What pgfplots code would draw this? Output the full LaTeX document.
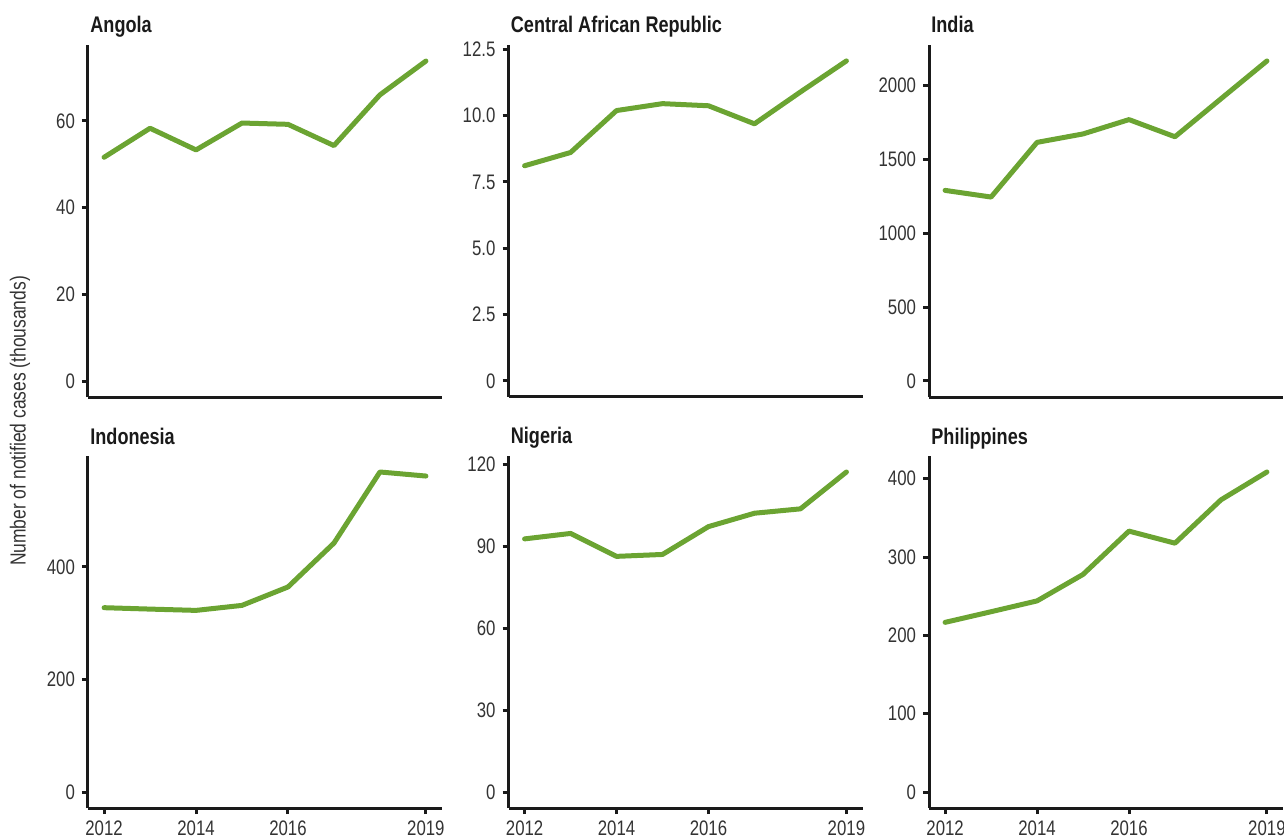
\documentclass[border=0pt]{standalone}
\usepackage{fontspec}
\setmainfont{Liberation Sans}[FakeStretch=0.8]
\usepackage{pgfplots}
\pgfplotsset{compat=1.18}
\usepgfplotslibrary{groupplots}
\usetikzlibrary{calc}
\definecolor{grn}{RGB}{107,164,50}
\definecolor{axc}{RGB}{26,26,26}
\definecolor{tlc}{RGB}{51,51,51}
\tikzset{dataline/.style={grn, line width=2.5pt, line join=round, line cap=round, mark=none}}
\begin{document}
\begin{tikzpicture}
\begin{groupplot}[
 group style={group size=3 by 2, horizontal sep=33.25pt, vertical sep=29.5pt},
 scale only axis, width=177pt, height=176pt,
 axis lines*=left, axis line style={-, line width=1.5pt, color=axc},
 xmin=2011.65, xmax=2019.35,
 tick align=outside, major tick length=3pt,
 tick style={line width=1.5pt, color=axc},
 ticklabel style={font=\fontsize{10.5}{12}\selectfont, color=tlc},
 /pgf/number format/assume math mode=true,
 /pgf/number format/1000 sep={},
 title style={at={(0,1)}, anchor=base west, inner sep=0pt, xshift=1pt, font=\bfseries\fontsize{11.3}{13}\selectfont, color=axc},
 clip=false,
]
\nextgroupplot[title={Angola}, xtick=\empty, ymin=-3.69, ymax=77.5, ytick={0,20,40,60}]
\addplot[dataline] coordinates {(2012,51.6) (2013,58.3) (2014,53.3) (2015,59.5) (2016,59.2) (2017,54.3) (2018,66.0) (2019,73.8)};
\nextgroupplot[title={Central African Republic}, xtick=\empty, ymin=-0.603, ymax=12.66, ytick={0,2.5,5,7.5,10,12.5}, yticklabels={0,2.5,5.0,7.5,10.0,12.5}]
\addplot[dataline] coordinates {(2012,8.11) (2013,8.61) (2014,10.19) (2015,10.45) (2016,10.37) (2017,9.69) (2018,10.89) (2019,12.06)};
\nextgroupplot[title={India}, xtick=\empty, ymin=-108.3, ymax=2274, ytick={0,500,1000,1500,2000}]
\addplot[dataline] coordinates {(2012,1290) (2013,1245) (2014,1615) (2015,1672) (2016,1769) (2017,1653) (2018,1910) (2019,2166)};
\nextgroupplot[title={Indonesia}, xtick={2012,2014,2016,2019}, ymin=-28.4, ymax=597, ytick={0,200,400}]
\addplot[dataline] coordinates {(2012,327.5) (2013,325) (2014,322.7) (2015,331.6) (2016,364.3) (2017,442.3) (2018,568.6) (2019,561.4)};
\nextgroupplot[title={Nigeria}, xtick={2012,2014,2016,2019}, ymin=-5.86, ymax=123.06, ytick={0,30,60,90,120}]
\addplot[dataline] coordinates {(2012,92.7) (2013,94.7) (2014,86.3) (2015,87.0) (2016,97.2) (2017,102.1) (2018,103.7) (2019,117.2)};
\nextgroupplot[title={Philippines}, xtick={2012,2014,2016,2019}, ymin=-20.4, ymax=429, ytick={0,100,200,300,400}]
\addplot[dataline] coordinates {(2012,216.6) (2013,230.2) (2014,244) (2015,277.8) (2016,333.1) (2017,317.7) (2018,373) (2019,408.6)};
\end{groupplot}
\node[rotate=90, anchor=center, font=\fontsize{10.9}{13}\selectfont, color=tlc] at ($(group c1r1.north west)+(-34pt,-188pt)$) {Number of notified cases (thousands)};
\pgfresetboundingbox
\path ($(group c1r1.north west)+(-44pt,22.5pt)$) rectangle ($(group c1r1.north west)+(598pt,-397pt)$);
\end{tikzpicture}
\end{document}
